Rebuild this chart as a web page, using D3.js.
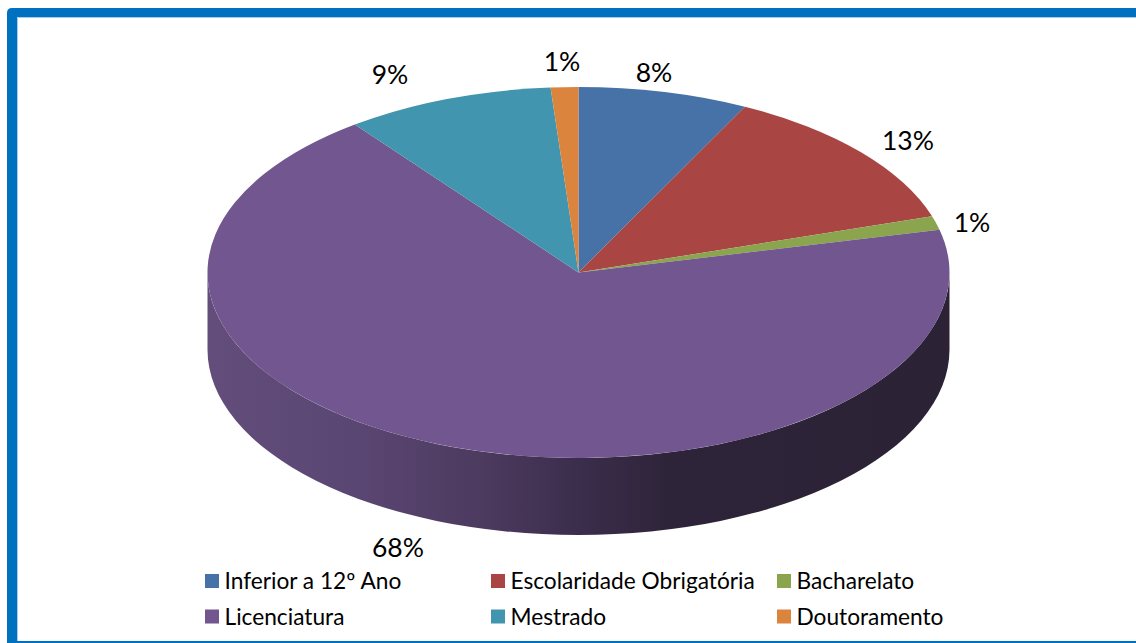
<!DOCTYPE html>
<html><head><meta charset="utf-8">
<script src="https://cdnjs.cloudflare.com/ajax/libs/d3/7.8.5/d3.min.js"></script>
<style>html,body{margin:0;padding:0;background:#fff}svg{display:block}text{font-family:Lato,"Open Sans",sans-serif;fill:#000}</style>
</head><body><svg id="c" width="1136" height="643"></svg>
<script>
const categories=["Inferior a 12º Ano","Escolaridade Obrigatória","Bacharelato","Licenciatura","Mestrado","Doutoramento"];
const values=[7.4,12.7,1.2,68.4,9.1,1.2];
const valueLabels=["8%","13%","1%","68%","9%","1%"];
const colors=["#4672a8","#a94543","#8aa54d","#725690","#4295ae","#db843d"];
const labelX=[654,908,972,398,390,562];
const labelBase=[82,150,232,557,84,71];
const legendCols=[205,491,777];
const legendRows=[574,609.5];

const cx=578.5,cy=272.5,rx=371,ry=185.5,depth=77;
const svg=d3.select("#c");
const defs=svg.append("defs");
const grad=defs.append("linearGradient").attr("id","wall").attr("gradientUnits","userSpaceOnUse")
  .attr("x1",cx-rx).attr("x2",cx+rx).attr("y1",0).attr("y2",0);
[[0,"#634e7b"],[0.2,"#5a4672"],[0.37,"#4d3a5f"],[0.5,"#3b2d4c"],[0.62,"#2e2439"],[1,"#2b2236"]]
  .forEach(s=>grad.append("stop").attr("offset",s[0]).attr("stop-color",s[1]));

// frame
svg.append("path").attr("fill","none").attr("stroke","#a9cbe6").attr("stroke-width",1)
  .attr("d","M17.5,641V17.5H1136");
svg.append("path").attr("fill","#0070c0").attr("d","M1136,8H12Q7,8 7,13V643H1136V641H17V17H1136Z");

const pie=d3.pie().sort(null).value(d=>d)(values);
const arc=d3.arc().innerRadius(0).outerRadius(rx);

// side wall
svg.append("path").attr("fill","url(#wall)")
  .attr("d",`M${cx-rx},${cy}A${rx},${ry} 0 0 0 ${cx+rx},${cy}V${cy+depth}A${rx},${ry} 0 0 1 ${cx-rx},${cy+depth}Z`);

// top
svg.append("g").attr("transform",`translate(${cx},${cy}) scale(1,${ry/rx})`)
  .selectAll("path").data(pie).join("path").attr("d",arc).attr("fill",(d,i)=>colors[i]);

// value labels
svg.append("g").selectAll("text").data(valueLabels).join("text")
  .attr("x",(d,i)=>labelX[i]).attr("y",(d,i)=>labelBase[i]).attr("text-anchor","middle")
  .attr("font-size",26.5).text(d=>d);

// legend
const leg=svg.append("g").selectAll("g").data(categories).join("g")
  .attr("transform",(d,i)=>`translate(${legendCols[i%3]},${legendRows[Math.floor(i/3)]})`);
leg.append("rect").attr("width",14).attr("height",14).attr("fill",(d,i)=>colors[i]);
leg.append("text").attr("x",19.5).attr("y",15).attr("font-size",22.7).text(d=>d);
</script></body></html>
